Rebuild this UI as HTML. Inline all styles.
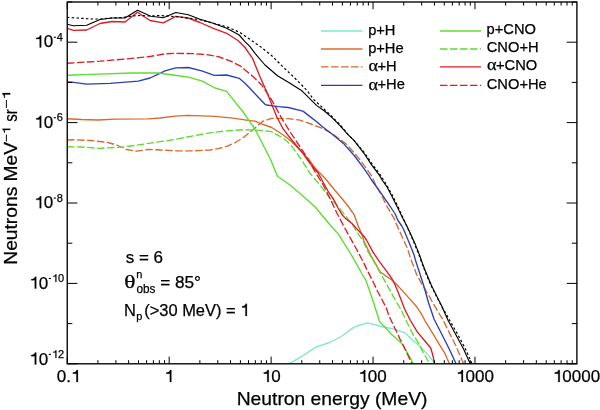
<!DOCTYPE html>
<html><head><meta charset="utf-8"><style>
html,body{margin:0;padding:0;background:#fff;}
svg{display:block;}
text{font-family:"Liberation Sans",sans-serif;fill:#000;stroke:#000;stroke-width:0.25px;}
svg{will-change:transform;}
.h{fill-opacity:0;stroke-opacity:0;}
text.s{font-family:"Liberation Serif",serif;}
path.o{fill:#000;stroke:#000;stroke-width:0.25px;vector-effect:non-scaling-stroke;}
</style></head><body>
<svg width="600" height="410" viewBox="0 0 600 410">
<defs><clipPath id="c"><rect x="67.25" y="2.0" width="509.65" height="361.8"/></clipPath></defs><g clip-path="url(#c)" fill="none" stroke-linejoin="round"><polyline points="288.50,366.00 289.20,363.60 302.00,356.30 315.80,347.10 329.50,342.50 340.60,337.00 353.40,327.60 357.00,326.00 367.20,322.90 373.80,324.40 383.30,327.00 394.30,329.10 405.00,332.80 411.80,339.60 418.40,345.10 425.00,351.70 428.20,355.10 433.60,361.70 435.50,366.00" stroke="#7ee8d0" stroke-width="1.35"/><polyline points="67.00,118.70 81.70,119.50 98.30,120.00 115.00,119.20 148.30,118.80 160.00,118.00 175.00,116.20 188.30,115.40 215.00,116.30 233.00,118.10 248.30,120.30 255.00,121.20 260.00,123.30 271.70,127.50 283.30,135.00 291.70,141.70 300.00,150.00 309.00,159.60 315.00,168.00 325.00,178.30 333.00,188.00 341.70,198.30 348.00,206.00 354.20,214.80 358.20,226.00 361.80,234.00 363.60,240.30 367.00,247.50 370.80,255.40 376.30,265.20 380.20,271.80 386.20,276.20 392.50,280.50 399.10,287.10 407.90,296.90 416.70,306.80 421.10,313.40 425.00,320.80 431.50,331.40 439.10,344.10 444.60,352.90 449.00,362.80 450.00,366.00" stroke="#d86a2c" stroke-width="1.35"/><polyline points="67.00,140.00 75.00,139.70 90.00,140.50 106.70,142.20 116.70,145.00 126.70,149.50 136.70,151.20 148.30,149.50 160.00,150.00 176.70,150.80 193.30,150.80 204.00,150.30 210.00,150.00 218.30,148.70 226.70,146.30 235.00,142.80 243.30,137.50 251.70,130.80 258.30,125.30 262.50,121.50 271.70,118.30 288.30,118.70 300.00,120.20 311.00,124.00 321.90,128.20 332.00,133.40 346.10,143.90 356.80,155.80 365.20,166.80 372.00,176.40 375.60,184.80 381.00,194.30 387.50,207.40 394.10,218.40 396.30,223.90 401.00,234.30 407.50,248.50 410.40,258.00 413.00,264.80 416.50,274.30 421.90,284.10 428.50,295.10 434.00,304.80 443.00,320.00 449.00,332.10 455.60,345.20 462.20,360.60 463.30,363.00 464.00,366.00" stroke="#d86a2c" stroke-width="1.35" stroke-dasharray="7.5,2.5"/><polyline points="67.00,82.00 71.70,82.20 86.70,84.20 110.00,83.30 138.30,81.20 150.00,78.00 158.30,74.20 165.00,70.80 175.80,67.80 188.30,67.50 201.70,70.80 214.20,75.30 226.70,75.00 239.20,78.30 245.00,83.30 265.00,104.30 266.50,105.00 278.30,106.70 288.30,107.50 300.00,110.30 303.30,111.40 311.00,117.40 316.70,121.70 321.90,126.20 332.90,134.80 343.40,143.40 354.20,155.50 362.20,166.20 368.90,175.60 371.50,180.00 375.60,185.50 381.00,193.20 388.60,204.10 395.20,214.00 397.70,220.00 401.80,226.00 404.30,231.00 409.70,244.10 414.10,255.10 415.40,260.00 419.70,273.20 424.20,287.30 428.60,303.00 431.00,310.00 434.00,319.00 441.30,333.20 449.00,348.50 455.60,362.80 456.50,366.00" stroke="#2a40b8" stroke-width="1.35"/><polyline points="67.00,75.30 98.30,74.20 131.70,73.00 158.30,73.00 173.30,75.00 188.30,77.20 201.70,80.80 215.00,88.00 226.70,91.30 236.70,104.20 241.70,110.00 247.50,118.30 254.30,128.00 261.50,141.70 270.80,160.00 277.50,176.20 290.00,185.00 301.70,195.00 315.00,206.70 323.30,216.70 331.00,226.00 338.10,233.60 344.80,244.30 350.50,253.50 356.60,264.10 362.10,274.00 366.00,280.50 369.60,291.00 372.60,299.80 375.80,309.80 377.50,315.00 379.30,321.10 381.80,324.00 386.20,328.40 391.30,334.30 397.50,339.60 403.00,345.10 408.50,354.80 413.50,364.00 414.50,366.00" stroke="#5edc30" stroke-width="1.35"/><polyline points="67.00,146.70 81.70,147.00 98.30,148.30 115.00,147.50 123.30,147.00 140.00,144.70 160.00,141.70 176.70,139.20 193.30,135.80 210.00,132.80 226.70,130.80 243.30,129.70 260.00,130.30 271.70,131.70 283.30,138.30 290.00,144.00 293.30,148.30 301.00,159.00 310.00,173.30 320.00,185.00 330.00,198.30 339.00,207.50 346.30,216.80 352.30,224.50 357.40,232.60 363.30,241.30 367.50,251.00 374.10,261.90 379.60,271.80 388.20,287.10 394.70,299.10 401.30,310.10 407.40,323.20 412.90,334.10 418.40,342.90 422.80,351.70 429.30,363.30 430.00,366.00" stroke="#5edc30" stroke-width="1.35" stroke-dasharray="7.5,2.5"/><polyline points="67.00,63.30 100.00,61.20 125.00,59.00 150.00,56.50 165.00,53.80 176.70,53.30 193.30,53.70 206.70,54.70 218.30,56.70 230.00,60.80 241.70,66.70 245.00,70.00 253.30,76.70 261.70,85.00 268.30,95.00 271.70,100.00 281.70,118.30 290.00,131.70 298.30,144.20 306.70,157.00 315.00,171.70 323.30,185.00 331.00,200.50 337.00,213.30 343.40,225.50 350.10,237.60 356.70,249.50 362.10,259.70 367.50,270.70 373.60,282.80 377.00,290.20 382.10,299.80 386.50,308.50 389.10,316.00 393.50,325.50 397.90,334.30 399.70,338.50 406.30,351.70 412.00,364.00 413.00,366.00" stroke="#da1e24" stroke-width="1.35" stroke-dasharray="7.5,2.5"/><polyline points="67.00,28.30 73.30,30.30 86.70,30.00 100.00,23.50 112.00,21.50 125.00,22.00 137.50,12.20 150.00,20.50 163.30,22.80 175.80,16.30 188.30,18.00 200.00,22.50 213.30,28.30 226.70,33.30 238.30,40.80 245.00,47.50 252.50,58.30 260.00,76.70 266.70,91.70 270.00,100.00 276.70,116.70 283.30,129.20 291.70,140.00 301.70,151.70 308.30,161.00 318.30,173.30 328.30,191.70 334.00,200.00 338.10,208.00 342.10,214.80 345.00,217.90 352.30,223.80 357.40,229.60 363.30,235.50 366.50,240.00 373.00,252.10 379.60,261.90 386.20,270.70 391.70,278.40 395.00,284.80 396.90,289.30 401.30,300.20 404.60,309.00 410.40,320.50 417.30,331.90 424.30,340.30 430.70,348.00 432.20,353.00 433.50,358.00 434.70,366.00" stroke="#da1e24" stroke-width="1.35"/><polyline points="67.00,17.30 73.00,17.75 92.00,19.00 100.00,19.00 112.00,18.00 123.00,17.50 132.00,16.00 140.00,15.50 150.00,16.00 160.00,15.50 176.70,16.70 200.00,19.70 213.30,23.30 226.70,26.70 240.00,32.50 250.00,39.40 261.00,47.10 271.90,55.80 282.90,66.80 293.90,77.20 301.70,85.00 307.70,91.30 313.20,99.00 320.50,105.80 331.00,115.60 340.00,124.60 348.30,134.80 354.20,140.70 364.30,152.60 372.60,164.60 380.60,175.30 384.30,181.10 392.30,195.20 397.80,206.30 402.20,216.00 405.50,223.50 409.00,231.00 414.40,243.50 418.80,254.50 422.30,264.00 425.50,272.50 431.00,285.50 436.50,296.50 441.00,305.00 449.50,320.00 457.50,334.00 465.00,348.00 471.50,362.50 472.50,366.00" stroke="#000" stroke-width="1.2" stroke-dasharray="2.4,2.35"/><polyline points="67.00,24.20 73.30,25.80 86.70,25.30 100.00,19.50 112.00,18.00 125.00,18.00 137.50,10.30 150.80,16.20 163.30,17.70 175.80,12.50 188.30,14.70 200.00,19.20 213.30,23.30 226.70,28.30 239.20,35.00 245.00,41.70 250.00,46.70 255.00,53.30 265.00,65.00 277.50,75.80 290.00,83.30 302.20,91.10 311.00,99.90 316.50,105.40 324.10,110.80 331.80,117.40 339.50,125.10 348.30,134.80 354.20,140.70 363.60,152.80 371.60,164.90 379.70,175.60 382.10,180.00 387.50,187.70 393.00,198.60 398.50,209.60 402.90,218.40 406.20,224.80 409.70,232.10 415.20,244.10 419.60,255.10 422.90,264.80 426.30,273.20 431.80,286.30 437.30,297.30 441.10,304.80 447.90,320.00 455.60,334.30 463.30,348.50 469.80,362.80 470.50,366.00" stroke="#000" stroke-width="1.15"/></g>
<g stroke="#000" stroke-width="1"><line x1="67.25" y1="363.8" x2="67.25" y2="356.6"/><line x1="67.25" y1="2.0" x2="67.25" y2="9.2"/><line x1="97.93" y1="363.8" x2="97.93" y2="360.2"/><line x1="97.93" y1="2.0" x2="97.93" y2="5.6"/><line x1="115.88" y1="363.8" x2="115.88" y2="360.2"/><line x1="115.88" y1="2.0" x2="115.88" y2="5.6"/><line x1="128.62" y1="363.8" x2="128.62" y2="360.2"/><line x1="128.62" y1="2.0" x2="128.62" y2="5.6"/><line x1="138.50" y1="363.8" x2="138.50" y2="360.2"/><line x1="138.50" y1="2.0" x2="138.50" y2="5.6"/><line x1="146.57" y1="363.8" x2="146.57" y2="360.2"/><line x1="146.57" y1="2.0" x2="146.57" y2="5.6"/><line x1="153.39" y1="363.8" x2="153.39" y2="360.2"/><line x1="153.39" y1="2.0" x2="153.39" y2="5.6"/><line x1="159.30" y1="363.8" x2="159.30" y2="360.2"/><line x1="159.30" y1="2.0" x2="159.30" y2="5.6"/><line x1="164.52" y1="363.8" x2="164.52" y2="360.2"/><line x1="164.52" y1="2.0" x2="164.52" y2="5.6"/><line x1="169.18" y1="363.8" x2="169.18" y2="356.6"/><line x1="169.18" y1="2.0" x2="169.18" y2="9.2"/><line x1="199.86" y1="363.8" x2="199.86" y2="360.2"/><line x1="199.86" y1="2.0" x2="199.86" y2="5.6"/><line x1="217.81" y1="363.8" x2="217.81" y2="360.2"/><line x1="217.81" y1="2.0" x2="217.81" y2="5.6"/><line x1="230.55" y1="363.8" x2="230.55" y2="360.2"/><line x1="230.55" y1="2.0" x2="230.55" y2="5.6"/><line x1="240.43" y1="363.8" x2="240.43" y2="360.2"/><line x1="240.43" y1="2.0" x2="240.43" y2="5.6"/><line x1="248.50" y1="363.8" x2="248.50" y2="360.2"/><line x1="248.50" y1="2.0" x2="248.50" y2="5.6"/><line x1="255.32" y1="363.8" x2="255.32" y2="360.2"/><line x1="255.32" y1="2.0" x2="255.32" y2="5.6"/><line x1="261.23" y1="363.8" x2="261.23" y2="360.2"/><line x1="261.23" y1="2.0" x2="261.23" y2="5.6"/><line x1="266.45" y1="363.8" x2="266.45" y2="360.2"/><line x1="266.45" y1="2.0" x2="266.45" y2="5.6"/><line x1="271.11" y1="363.8" x2="271.11" y2="356.6"/><line x1="271.11" y1="2.0" x2="271.11" y2="9.2"/><line x1="301.79" y1="363.8" x2="301.79" y2="360.2"/><line x1="301.79" y1="2.0" x2="301.79" y2="5.6"/><line x1="319.74" y1="363.8" x2="319.74" y2="360.2"/><line x1="319.74" y1="2.0" x2="319.74" y2="5.6"/><line x1="332.48" y1="363.8" x2="332.48" y2="360.2"/><line x1="332.48" y1="2.0" x2="332.48" y2="5.6"/><line x1="342.36" y1="363.8" x2="342.36" y2="360.2"/><line x1="342.36" y1="2.0" x2="342.36" y2="5.6"/><line x1="350.43" y1="363.8" x2="350.43" y2="360.2"/><line x1="350.43" y1="2.0" x2="350.43" y2="5.6"/><line x1="357.25" y1="363.8" x2="357.25" y2="360.2"/><line x1="357.25" y1="2.0" x2="357.25" y2="5.6"/><line x1="363.16" y1="363.8" x2="363.16" y2="360.2"/><line x1="363.16" y1="2.0" x2="363.16" y2="5.6"/><line x1="368.38" y1="363.8" x2="368.38" y2="360.2"/><line x1="368.38" y1="2.0" x2="368.38" y2="5.6"/><line x1="373.04" y1="363.8" x2="373.04" y2="356.6"/><line x1="373.04" y1="2.0" x2="373.04" y2="9.2"/><line x1="403.72" y1="363.8" x2="403.72" y2="360.2"/><line x1="403.72" y1="2.0" x2="403.72" y2="5.6"/><line x1="421.67" y1="363.8" x2="421.67" y2="360.2"/><line x1="421.67" y1="2.0" x2="421.67" y2="5.6"/><line x1="434.41" y1="363.8" x2="434.41" y2="360.2"/><line x1="434.41" y1="2.0" x2="434.41" y2="5.6"/><line x1="444.29" y1="363.8" x2="444.29" y2="360.2"/><line x1="444.29" y1="2.0" x2="444.29" y2="5.6"/><line x1="452.36" y1="363.8" x2="452.36" y2="360.2"/><line x1="452.36" y1="2.0" x2="452.36" y2="5.6"/><line x1="459.18" y1="363.8" x2="459.18" y2="360.2"/><line x1="459.18" y1="2.0" x2="459.18" y2="5.6"/><line x1="465.09" y1="363.8" x2="465.09" y2="360.2"/><line x1="465.09" y1="2.0" x2="465.09" y2="5.6"/><line x1="470.31" y1="363.8" x2="470.31" y2="360.2"/><line x1="470.31" y1="2.0" x2="470.31" y2="5.6"/><line x1="474.97" y1="363.8" x2="474.97" y2="356.6"/><line x1="474.97" y1="2.0" x2="474.97" y2="9.2"/><line x1="505.65" y1="363.8" x2="505.65" y2="360.2"/><line x1="505.65" y1="2.0" x2="505.65" y2="5.6"/><line x1="523.60" y1="363.8" x2="523.60" y2="360.2"/><line x1="523.60" y1="2.0" x2="523.60" y2="5.6"/><line x1="536.34" y1="363.8" x2="536.34" y2="360.2"/><line x1="536.34" y1="2.0" x2="536.34" y2="5.6"/><line x1="546.22" y1="363.8" x2="546.22" y2="360.2"/><line x1="546.22" y1="2.0" x2="546.22" y2="5.6"/><line x1="554.29" y1="363.8" x2="554.29" y2="360.2"/><line x1="554.29" y1="2.0" x2="554.29" y2="5.6"/><line x1="561.11" y1="363.8" x2="561.11" y2="360.2"/><line x1="561.11" y1="2.0" x2="561.11" y2="5.6"/><line x1="567.02" y1="363.8" x2="567.02" y2="360.2"/><line x1="567.02" y1="2.0" x2="567.02" y2="5.6"/><line x1="572.24" y1="363.8" x2="572.24" y2="360.2"/><line x1="572.24" y1="2.0" x2="572.24" y2="5.6"/><line x1="67.25" y1="363.80" x2="77.45" y2="363.80"/><line x1="576.9" y1="363.80" x2="566.6999999999999" y2="363.80"/><line x1="67.25" y1="323.60" x2="72.35" y2="323.60"/><line x1="576.9" y1="323.60" x2="571.8" y2="323.60"/><line x1="67.25" y1="283.40" x2="77.45" y2="283.40"/><line x1="576.9" y1="283.40" x2="566.6999999999999" y2="283.40"/><line x1="67.25" y1="243.20" x2="72.35" y2="243.20"/><line x1="576.9" y1="243.20" x2="571.8" y2="243.20"/><line x1="67.25" y1="203.00" x2="77.45" y2="203.00"/><line x1="576.9" y1="203.00" x2="566.6999999999999" y2="203.00"/><line x1="67.25" y1="162.80" x2="72.35" y2="162.80"/><line x1="576.9" y1="162.80" x2="571.8" y2="162.80"/><line x1="67.25" y1="122.60" x2="77.45" y2="122.60"/><line x1="576.9" y1="122.60" x2="566.6999999999999" y2="122.60"/><line x1="67.25" y1="82.40" x2="72.35" y2="82.40"/><line x1="576.9" y1="82.40" x2="571.8" y2="82.40"/><line x1="67.25" y1="42.20" x2="77.45" y2="42.20"/><line x1="576.9" y1="42.20" x2="566.6999999999999" y2="42.20"/><line x1="67.25" y1="2.00" x2="72.35" y2="2.00"/><line x1="576.9" y1="2.00" x2="571.8" y2="2.00"/></g><rect x="67.25" y="2.0" width="509.65" height="361.8" fill="none" stroke="#000" stroke-width="1.35"/>
<text x="56.83" y="382.00" font-size="17">0.<tspan class="h">1</tspan></text><path class="o" d="M407,0L407,-703L334,-703C310,-610 260,-565 109,-553L109,-490L317,-490L317,0Z" transform="translate(71.01,382.00) scale(0.01700,0.01700)"/><text x="164.45" y="382.00" font-size="17"><tspan class="h">1</tspan></text><path class="o" d="M407,0L407,-703L334,-703C310,-610 260,-565 109,-553L109,-490L317,-490L317,0Z" transform="translate(164.45,382.00) scale(0.01700,0.01700)"/><text x="261.86" y="382.00" font-size="17"><tspan class="h">1</tspan>0</text><path class="o" d="M407,0L407,-703L334,-703C310,-610 260,-565 109,-553L109,-490L317,-490L317,0Z" transform="translate(261.86,382.00) scale(0.01700,0.01700)"/><text x="358.36" y="382.00" font-size="17"><tspan class="h">1</tspan>00</text><path class="o" d="M407,0L407,-703L334,-703C310,-610 260,-565 109,-553L109,-490L317,-490L317,0Z" transform="translate(358.36,382.00) scale(0.01700,0.01700)"/><text x="456.06" y="382.00" font-size="17"><tspan class="h">1</tspan>000</text><path class="o" d="M407,0L407,-703L334,-703C310,-610 260,-565 109,-553L109,-490L317,-490L317,0Z" transform="translate(456.06,382.00) scale(0.01700,0.01700)"/><text x="552.86" y="382.00" font-size="17"><tspan class="h">1</tspan>0000</text><path class="o" d="M407,0L407,-703L334,-703C310,-610 260,-565 109,-553L109,-490L317,-490L317,0Z" transform="translate(552.86,382.00) scale(0.01700,0.01700)"/><text x="34.30" y="47.40" font-size="17"><tspan class="h">1</tspan>0</text><path class="o" d="M407,0L407,-703L334,-703C310,-610 260,-565 109,-553L109,-490L317,-490L317,0Z" transform="translate(34.30,47.40) scale(0.01700,0.01700)"/><rect x="53.76" y="36.70" width="2.1" height="1.15" fill="#000"/><text x="56.87" y="40.80" font-size="11">4</text><text x="34.30" y="127.80" font-size="17"><tspan class="h">1</tspan>0</text><path class="o" d="M407,0L407,-703L334,-703C310,-610 260,-565 109,-553L109,-490L317,-490L317,0Z" transform="translate(34.30,127.80) scale(0.01700,0.01700)"/><rect x="53.76" y="117.10" width="2.1" height="1.15" fill="#000"/><text x="56.87" y="121.20" font-size="11">6</text><text x="34.30" y="208.20" font-size="17"><tspan class="h">1</tspan>0</text><path class="o" d="M407,0L407,-703L334,-703C310,-610 260,-565 109,-553L109,-490L317,-490L317,0Z" transform="translate(34.30,208.20) scale(0.01700,0.01700)"/><rect x="53.76" y="197.50" width="2.1" height="1.15" fill="#000"/><text x="56.87" y="201.60" font-size="11">8</text><text x="29.35" y="288.60" font-size="17"><tspan class="h">1</tspan>0</text><path class="o" d="M407,0L407,-703L334,-703C310,-610 260,-565 109,-553L109,-490L317,-490L317,0Z" transform="translate(29.35,288.60) scale(0.01700,0.01700)"/><rect x="48.81" y="277.90" width="2.1" height="1.15" fill="#000"/><text x="51.92" y="282.00" font-size="11"><tspan class="h">1</tspan>0</text><path class="o" d="M407,0L407,-703L334,-703C310,-610 260,-565 109,-553L109,-490L317,-490L317,0Z" transform="translate(51.92,282.00) scale(0.01100,0.01100)"/><text x="29.35" y="364.50" font-size="17"><tspan class="h">1</tspan>0</text><path class="o" d="M407,0L407,-703L334,-703C310,-610 260,-565 109,-553L109,-490L317,-490L317,0Z" transform="translate(29.35,364.50) scale(0.01700,0.01700)"/><rect x="48.81" y="353.80" width="2.1" height="1.15" fill="#000"/><text x="51.92" y="357.90" font-size="11"><tspan class="h">1</tspan>2</text><path class="o" d="M407,0L407,-703L334,-703C310,-610 260,-565 109,-553L109,-490L317,-490L317,0Z" transform="translate(51.92,357.90) scale(0.01100,0.01100)"/><text x="236.66" y="405.20" font-size="19" textLength="190.77" lengthAdjust="spacingAndGlyphs">Neutron energy (MeV)</text><g transform="translate(16.8,263.2) rotate(-90)"><text x="-1.54" y="0.00" font-size="19" textLength="122.87" lengthAdjust="spacingAndGlyphs">Neutrons MeV</text><text x="121.23" y="-6.60" font-size="11" textLength="15.24" lengthAdjust="spacingAndGlyphs">−<tspan class="h">1</tspan></text><path class="o" d="M407,0L407,-703L334,-703C310,-610 260,-565 109,-553L109,-490L317,-490L317,0Z" transform="translate(129.04,-6.60) scale(0.01337,0.01100)"/><text x="141.55" y="0.00" font-size="19" textLength="12.52" lengthAdjust="spacingAndGlyphs">sr</text><text x="154.51" y="-6.60" font-size="11" textLength="17.98" lengthAdjust="spacingAndGlyphs">−<tspan class="h">1</tspan></text><path class="o" d="M407,0L407,-703L334,-703C310,-610 260,-565 109,-553L109,-490L317,-490L317,0Z" transform="translate(163.72,-6.60) scale(0.01577,0.01100)"/></g><line x1="321" y1="31" x2="362.5" y2="31" stroke="#7ee8d0" stroke-width="1.35"/><text x="368.14" y="34.90" font-size="14.7">p+H</text><line x1="321" y1="49" x2="362.5" y2="49" stroke="#d86a2c" stroke-width="1.35"/><text x="368.14" y="52.90" font-size="14.7">p+He</text><line x1="321" y1="66.8" x2="362.5" y2="66.8" stroke="#d86a2c" stroke-width="1.35" stroke-dasharray="7.5,2.5"/><text class="s" x="368.57" y="71.00" font-size="16.5" textLength="9.57" lengthAdjust="spacingAndGlyphs">α</text><text x="377.56" y="70.70" font-size="14.7">+H</text><line x1="321" y1="85.4" x2="362.5" y2="85.4" stroke="#2a40b8" stroke-width="1.35"/><text class="s" x="368.57" y="89.60" font-size="16.5" textLength="9.57" lengthAdjust="spacingAndGlyphs">α</text><text x="377.56" y="89.30" font-size="14.7">+He</text><line x1="440" y1="31" x2="481" y2="31" stroke="#5edc30" stroke-width="1.35"/><text x="486.54" y="34.10" font-size="14.7">p+CNO</text><line x1="440" y1="49" x2="481" y2="49" stroke="#5edc30" stroke-width="1.35" stroke-dasharray="7.5,2.5"/><text x="486.76" y="52.10" font-size="14.7">CNO+H</text><line x1="440" y1="66.8" x2="481" y2="66.8" stroke="#da1e24" stroke-width="1.35"/><text class="s" x="486.97" y="70.20" font-size="16.5" textLength="9.57" lengthAdjust="spacingAndGlyphs">α</text><text x="495.96" y="69.90" font-size="14.7">+CNO</text><line x1="440" y1="85.4" x2="481" y2="85.4" stroke="#da1e24" stroke-width="1.35" stroke-dasharray="7.5,2.5"/><text x="486.76" y="88.50" font-size="14.7">CNO+He</text><text x="125.69" y="263.40" font-size="17.3" textLength="37.29" lengthAdjust="spacingAndGlyphs">s = 6</text><text class="s" x="124.25" y="288.20" font-size="18" textLength="11.18" lengthAdjust="spacingAndGlyphs">θ</text><text x="136.28" y="277.90" font-size="11">n</text><text x="136.53" y="293.00" font-size="12" textLength="18.91" lengthAdjust="spacingAndGlyphs">obs</text><text x="160.14" y="287.80" font-size="17.3" textLength="40.88" lengthAdjust="spacingAndGlyphs">= 85°</text><text x="123.99" y="316.00" font-size="17.3" textLength="11.86" lengthAdjust="spacingAndGlyphs">N</text><text x="136.19" y="319.60" font-size="11">p</text><text x="144.21" y="316.00" font-size="17.3" textLength="105.15" lengthAdjust="spacingAndGlyphs">(&gt;30 MeV) = <tspan class="h">1</tspan></text><path class="o" d="M407,0L407,-703L334,-703C310,-610 260,-565 109,-553L109,-490L317,-490L317,0Z" transform="translate(240.21,316.00) scale(0.01645,0.01730)"/>
</svg>
</body></html>
